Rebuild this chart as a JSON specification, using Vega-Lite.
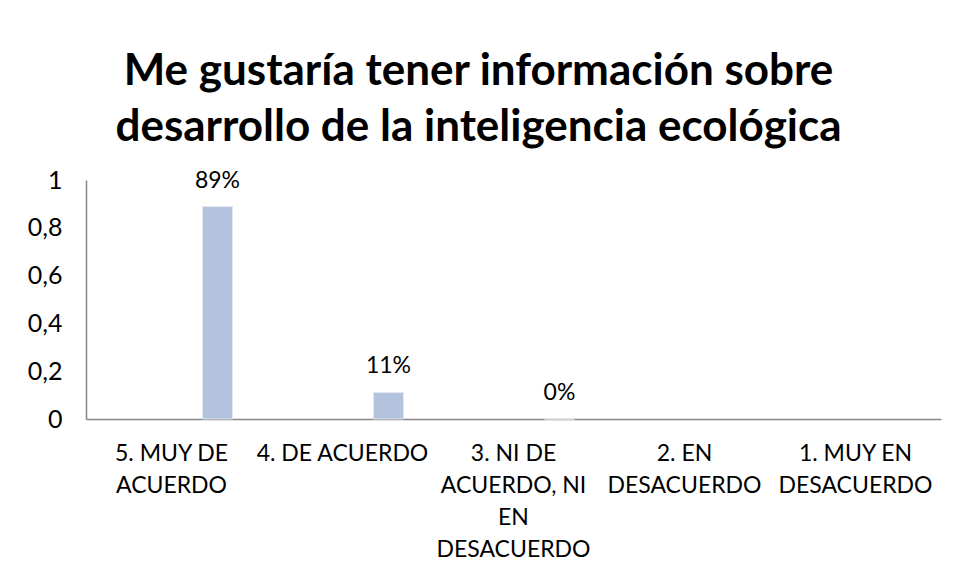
{
  "$schema": "https://vega.github.io/schema/vega-lite/v6.json",
  "width": 855,
  "height": 239,
  "autosize": {"type": "none"},
  "padding": {"left": 86, "top": 180, "right": 18, "bottom": 161},
  "background": "white",
  "config": {"font": "Lato", "view": {"stroke": null}},
  "title": {
    "text": ["Me gustaría tener información sobre", "desarrollo de la inteligencia ecológica"],
    "font": "Lato",
    "fontSize": 44,
    "fontWeight": "bold",
    "color": "#000000",
    "lineHeight": 56,
    "anchor": "middle",
    "dx": -35,
    "offset": 18
  },
  "data": {
    "values": [
      {"respuesta": "5. MUY DE ACUERDO", "porcentaje": 0.8889},
      {"respuesta": "4. DE ACUERDO", "porcentaje": 0.1111},
      {"respuesta": "3. NI DE ACUERDO, NI EN DESACUERDO", "porcentaje": 0},
      {"respuesta": "2. EN DESACUERDO", "porcentaje": null},
      {"respuesta": "1. MUY EN DESACUERDO", "porcentaje": null}
    ]
  },
  "encoding": {
    "x": {
      "field": "respuesta",
      "type": "nominal",
      "sort": null,
      "scale": {
        "domain": ["5. MUY DE ACUERDO", "4. DE ACUERDO", "3. NI DE ACUERDO, NI EN DESACUERDO", "2. EN DESACUERDO", "1. MUY EN DESACUERDO"],
        "paddingInner": 0,
        "paddingOuter": 0
      },
      "axis": {
        "title": null,
        "labelAngle": 0,
        "labelFont": "Lato",
        "labelFontSize": 23,
        "labelColor": "#000000",
        "labelLineHeight": 32,
        "labelPadding": 23,
        "labelBaseline": "top",
        "ticks": false,
        "domainColor": "#868686",
        "domainWidth": 1.5,
        "labelExpr": "datum.value == '5. MUY DE ACUERDO' ? ['5. MUY DE', 'ACUERDO'] : datum.value == '3. NI DE ACUERDO, NI EN DESACUERDO' ? ['3. NI DE', 'ACUERDO, NI', 'EN', 'DESACUERDO'] : datum.value == '2. EN DESACUERDO' ? ['2. EN', 'DESACUERDO'] : datum.value == '1. MUY EN DESACUERDO' ? ['1. MUY EN', 'DESACUERDO'] : datum.value"
      }
    }
  },
  "layer": [
    {
      "mark": {"type": "bar", "width": 30, "xOffset": 46, "fill": "#B3C3DE", "stroke": "#E3E6EC", "strokeWidth": 1},
      "encoding": {
        "y": {
          "field": "porcentaje",
          "type": "quantitative",
          "scale": {"domain": [0, 1], "nice": false},
          "axis": {
            "title": null,
            "values": [0, 0.2, 0.4, 0.6, 0.8, 1],
            "labelExpr": "replace(format(datum.value, '~g'), '.', ',')",
            "labelFont": "Lato",
            "labelFontSize": 25,
            "labelColor": "#000000",
            "labelPadding": 24,
            "ticks": false,
            "grid": false,
            "domainColor": "#868686",
            "domainWidth": 1.5
          }
        }
      }
    },
    {
      "mark": {"type": "text", "xOffset": 46, "dy": -26, "baseline": "middle", "align": "center", "font": "Lato", "fontSize": 23, "color": "#000000"},
      "encoding": {
        "y": {"field": "porcentaje", "type": "quantitative"},
        "text": {"field": "porcentaje", "type": "quantitative", "format": ".0%"}
      }
    }
  ]
}
